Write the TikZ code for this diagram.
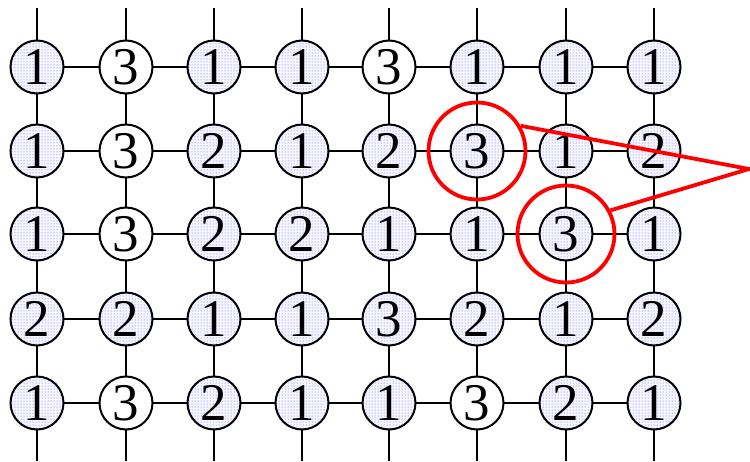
\documentclass[tikz,border=0pt]{standalone}
\usepackage{fontspec}
\setmainfont{Liberation Serif}
\usetikzlibrary{patterns}
\begin{document}
\begin{tikzpicture}[x=1pt,y=-1pt,
  grid/.style={line width=1.6pt,black},
  cell/.style={circle,draw=black,line width=2pt,minimum size=53pt,inner sep=0pt,
    font=\fontsize{53}{53}\selectfont},
  dcell/.style={cell,preaction={fill=blue!3},pattern=dots,pattern color=blue!65},
  pcell/.style={cell,fill=white},
  mark ring/.style={draw=red,line width=3.8pt},
  callout/.style={red,line width=3.8pt}]
\useasboundingbox (0,0) rectangle (750,461);
\def\colx{{37,126,214,302,389,477,566,654}}
\def\rowy{{67,151,234,319,403}}
% vertical lines
\foreach \c in {0,...,7}{
  \pgfmathsetmacro{\xx}{\colx[\c]}
  \coordinate (vt\c) at (\xx,8);
  \coordinate (vb\c) at (\xx,461);
  \draw[grid] (vt\c) -- (vb\c);
}
% horizontal lines
\foreach \r in {0,...,4}{
  \pgfmathsetmacro{\yy}{\rowy[\r]}
  \coordinate (hl\r) at (37,\yy);
  \coordinate (hr\r) at (654,\yy);
  \draw[grid] (hl\r) -- (hr\r);
}
% nodes: row/col/digit/style
\foreach \r/\c/\v/\s in {
  0/0/1/dcell,0/1/3/pcell,0/2/1/dcell,0/3/1/dcell,0/4/3/pcell,0/5/1/dcell,0/6/1/dcell,0/7/1/dcell,
  1/0/1/dcell,1/1/3/pcell,1/2/2/dcell,1/3/1/dcell,1/4/2/dcell,1/5/3/dcell,1/6/1/dcell,1/7/2/dcell,
  2/0/1/dcell,2/1/3/pcell,2/2/2/dcell,2/3/2/dcell,2/4/1/dcell,2/5/1/dcell,2/6/3/dcell,2/7/1/dcell,
  3/0/2/dcell,3/1/2/dcell,3/2/1/dcell,3/3/1/dcell,3/4/3/dcell,3/5/2/dcell,3/6/1/dcell,3/7/2/dcell,
  4/0/1/dcell,4/1/3/pcell,4/2/2/dcell,4/3/1/dcell,4/4/1/dcell,4/5/3/pcell,4/6/2/dcell,4/7/1/dcell}{
  \pgfmathsetmacro{\xx}{\colx[\c]}
  \pgfmathsetmacro{\yy}{\rowy[\r]}
  \node[\s] (n\r\c) at (\xx,\yy) {\v};
}
% red rings
\node[mark ring,circle,minimum size=97pt,inner sep=0pt] (ringA) at (n15) {};
\node[mark ring,circle,minimum size=97pt,inner sep=0pt] (ringB) at (n26) {};
\coordinate (apex) at (749,169);
\draw[callout] (ringA.30) -- (apex) -- (ringB.28);
\end{tikzpicture}
\end{document}
